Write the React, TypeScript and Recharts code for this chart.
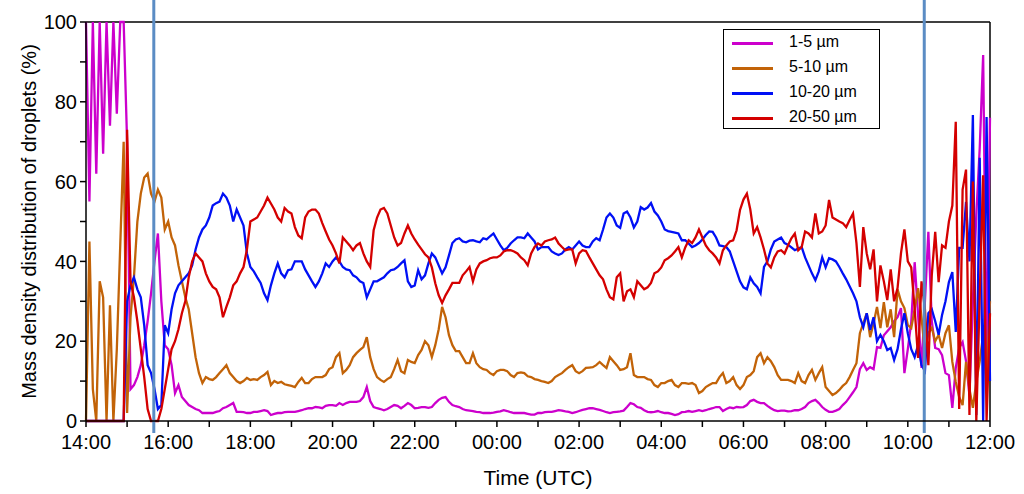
import { Label, Legend, Line, LineChart, ReferenceLine, XAxis, YAxis } from "recharts";

const FONT = '"Liberation Sans", Arial, sans-serif';

// one sample every 5 minutes, starting 14:00 UTC
const STEP_MIN = 5;

const HOUR_LABELS = [
  "14:00", "15:00", "16:00", "17:00", "18:00", "19:00", "20:00", "21:00",
  "22:00", "23:00", "00:00", "01:00", "02:00", "03:00", "04:00", "05:00",
  "06:00", "07:00", "08:00", "09:00", "10:00", "11:00", "12:00",
];

const Y_TICKS = [0, 10, 20, 30, 40, 50, 60, 70, 80, 90, 100];

// the two vertical markers, minutes after 14:00
const MARKER_TIMES = [99, 1224];

const size1to5 = [
  100, 55, 100, 62, 100, 67, 100, 74, 100, 77, 100, 100,
  70, 8, 9, 11, 14, 19, 25, 32, 40, 47, 30, 19,
  18, 14, 7, 9, 6, 5, 4, 3.5, 3, 2.7, 2, 2,
  2, 2, 2.3, 2.5, 3.2, 3.5, 4, 4.5, 2.3, 2.3, 2.2, 2,
  2, 2.3, 2.3, 2.5, 2.7, 2.5, 1.5, 1.8, 2, 2, 2.2, 2.3,
  2.3, 2.3, 2.5, 2.7, 3, 3.2, 3.2, 3.5, 3.4, 3.2, 3.8, 4,
  4, 3.8, 4.5, 4, 4.5, 4.8, 4.8, 4.8, 5, 6, 8.5, 5,
  3.5, 3.2, 3, 2.7, 3, 3.5, 4, 3.8, 3.2, 3.8, 4.5, 4,
  3.2, 3.3, 3.5, 3.5, 3.3, 3.5, 4.5, 5.3, 5.8, 6, 4.8, 4,
  3.7, 3.5, 3, 2.7, 2.6, 2.5, 2.3, 2.2, 2, 2, 2, 2.1,
  2.3, 2.4, 2.7, 2.5, 2.2, 2, 2, 2, 2, 1.8, 1.6, 1.6,
  2, 2, 2.2, 2.3, 2.3, 2.5, 2.7, 2.6, 2.4, 2.3, 2, 2.2,
  2.5, 2.8, 3, 3.2, 3.2, 3, 2.8, 2.5, 2.2, 2, 2.2, 2.3,
  2.4, 2.6, 3.5, 4.5, 4.2, 3.5, 3.3, 2.7, 2.3, 2.2, 2.3, 2.5,
  2.2, 2, 2, 1.8, 1.5, 1.7, 2.2, 2.3, 2.5, 2.3, 2.5, 2.7,
  2.5, 2.7, 3, 3.2, 3.5, 3.5, 2.5, 3, 3.4, 3.2, 3.5, 3.4,
  3.5, 4, 5, 5.3, 4.8, 4.5, 4.5, 3.8, 3.2, 2.7, 2.5, 2.6,
  2.6, 2.4, 2.5, 2.7, 2.7, 3, 3.5, 4.5, 5, 5.3, 4.5, 3.5,
  2.8, 2.3, 2.3, 2.6, 3, 4, 4.8, 6, 7.2, 8.5, 13, 14.5,
  12.8, 13.5, 13, 18.5, 18.3, 21.5, 22.5, 23.5, 25, 26, 28.3, 12,
  18, 24.8, 39.8, 26.6, 13.3, 30, 47.4, 25, 18.3, 18, 16.5, 12,
  11.5, 3.3, 13.3, 18.3, 19.8, 15, 6.5, 30, 51.6, 68.4, 91.7, 14,
  76,
];

const size5to10 = [
  0, 45, 8, 0, 35, 31, 0, 29, 0, 18, 44, 70,
  2, 26, 36, 50, 57, 61, 62, 57, 55, 58, 56, 48,
  50, 46, 44, 39, 35, 31, 28, 22, 16, 12, 9.5, 11,
  10.5, 10.3, 11, 12, 13, 14, 12, 11, 10, 9.5, 10, 10.8,
  10.3, 10.5, 10.3, 11, 11.5, 12.3, 9, 10, 9.5, 9.8, 9.2, 9,
  8.8, 8.5, 9.8, 10.8, 9.5, 9.5, 10.5, 11, 11, 11, 11.5, 13,
  13.5, 16, 17, 12, 12.8, 14, 16, 17, 17.8, 18.5, 21, 16,
  13, 11, 10.3, 9.8, 10.5, 11, 13, 15.3, 12.5, 12, 15.3, 14.8,
  14.5, 16.5, 17.8, 20, 19, 16, 19, 23, 28.6, 26, 21.5, 19,
  17.5, 17.5, 16, 14.5, 14.5, 17, 14.5, 13.5, 13, 12.8, 12, 11.5,
  12.5, 12.8, 12.8, 12.5, 11.5, 11, 12, 12.2, 12, 11.2, 11, 10.5,
  10.3, 10, 9.8, 9.5, 10, 11, 11.5, 12, 12.8, 13.5, 14, 12.5,
  12, 12.5, 13.3, 13.4, 13.5, 14, 14.8, 14, 13.3, 16, 15, 14,
  12.8, 13, 13.5, 17, 11.5, 11, 11, 11, 10.5, 10.3, 9, 8.5,
  9.5, 9.5, 10, 10.3, 9, 8.5, 9.5, 9.5, 9.3, 9.5, 9, 7,
  7.5, 8.5, 9, 9.5, 9.5, 11, 12, 9.5, 10, 11, 9, 8,
  9, 11, 11.5, 12.5, 16, 17, 14.5, 16, 15, 13.5, 11.5, 10.3,
  10.3, 10.3, 10, 9.5, 12, 10, 9.5, 11.5, 12.8, 10.3, 12, 13.5,
  8.5, 7.5, 6.5, 7, 7.8, 8.8, 9.5, 11, 12.8, 14.5, 22, 24.5,
  27, 21, 24.5, 28.6, 23.3, 29.8, 23.5, 28, 21, 33, 30, 28.3,
  24, 23.3, 28, 33.3, 26, 17, 22, 23.3, 20, 21.6, 18.3, 22,
  24, 14.8, 9.8, 6, 4, 14.8, 8, 3.3, 9.8, 15, 21.6, 10,
  30,
];

const size10to20 = [
  0, 0, 0, 0, 0, 0, 0, 0, 0, 0, 0, 0,
  30, 34, 36, 33, 31, 24, 14, 12, 8, 3, 4, 24,
  22, 28, 32, 34, 35, 36, 37, 39, 43, 46, 48, 49,
  51, 54, 54.6, 55, 57, 56, 54, 50, 53, 51, 49, 42,
  38.6, 37.5, 36, 34.6, 32, 30.3, 34, 37, 39.5, 37, 36, 37.8,
  38, 40, 40, 40, 38, 36.5, 35, 33.6, 35, 37, 39.5, 38.6,
  40, 41, 40, 38.6, 38, 37.8, 36.5, 36, 35, 34.6, 31, 33,
  35, 35, 35.5, 36, 37, 37.8, 38, 38.6, 39.5, 40.3, 35, 33.6,
  34, 37.8, 35.5, 36.5, 39.5, 42, 41, 39, 37, 38.5, 41.5, 44.6,
  45.5, 45.8, 45, 44.8, 45.2, 45.3, 45, 44.8, 45.8, 45.5, 46.3, 47,
  45.5, 44, 42.8, 43.4, 44.5, 45.3, 46, 46, 45.8, 47, 46, 45,
  43, 43.6, 43.6, 43.6, 42.5, 42, 41.6, 42, 43, 43.6, 43, 44,
  45, 44, 43.6, 43.6, 45, 45.8, 45.3, 48, 51, 52, 51, 49,
  48.4, 52, 52.5, 51, 48.5, 50, 53.6, 53, 53.5, 54.6, 52.5, 51.5,
  50, 48, 47.6, 47.4, 47.2, 47, 45.3, 45.3, 44.5, 43.6, 44, 44.6,
  45.5, 46.6, 47.5, 47.4, 46, 44, 43.8, 43.6, 42.5, 40, 37.5, 35,
  33.5, 33, 36, 34.5, 33.6, 32, 38.6, 40, 43, 45, 45.5, 46,
  44.6, 44.2, 43.5, 42.8, 43.2, 43.6, 41, 39, 37, 35.3, 37.5, 41,
  38.5, 40.8, 40.5, 40, 38.6, 37, 35.5, 33.8, 32, 30, 26, 23.5,
  27, 22.8, 26, 20, 21.6, 20, 17.8, 18.3, 15.3, 18, 23, 27,
  22, 18, 16, 19, 14, 12.5, 27, 28, 25, 21.6, 26.6, 30,
  34.8, 37.3, 22.3, 43.4, 43.4, 54.9, 40, 76.7, 1.5, 66, 0, 76.2,
  10,
];

const size20to50 = [
  0, 0, 0, 0, 0, 0, 0, 0, 0, 0, 0, 0,
  73, 35, 31, 25, 18, 11, 3, 0, 0, 0, 3, 8,
  13, 18, 20, 23, 27, 30, 36, 40, 42, 41, 40, 37,
  35, 33.6, 33, 31, 26, 28.6, 31, 34, 35, 37, 38.6, 43,
  50, 50.5, 51, 52.5, 54, 56, 54.5, 53, 51, 50, 53.4, 52.5,
  52, 48.6, 46.5, 45.8, 51, 52.5, 53, 53, 52, 49.6, 47.5, 45.5,
  44, 42, 39.5, 46, 45, 44, 42.8, 44, 44.6, 42, 40, 38.6,
  47.8, 51, 53, 53.4, 52, 49, 46, 44, 44.6, 47, 49, 47,
  45.5, 44.2, 43, 41.8, 41, 38.5, 34.5, 31.5, 29.6, 31.5, 33, 34.6,
  34.6, 34.6, 36.5, 37.5, 38.6, 35, 38, 39.5, 40, 40.3, 40.8, 41,
  41, 41.5, 42.5, 42.8, 42.8, 42.5, 42, 41, 40.3, 39, 42, 43.6,
  44.5, 44, 45, 45.3, 45.5, 46, 44.5, 43.6, 42.8, 43, 43, 39.5,
  42, 42.8, 42.6, 41, 39.5, 38, 36.5, 35.5, 33, 31, 30.5, 36,
  37, 30, 32.5, 33, 31, 35, 34, 33, 33.5, 34.6, 37, 37.5,
  38.5, 40.3, 40.8, 41.5, 42.5, 43.6, 41, 43.5, 45.3, 44.6, 46, 48,
  46, 44, 42.8, 42, 41, 39.5, 42.8, 44, 45, 45.3, 47.8, 52.9,
  55.5, 57, 53, 47, 48.6, 46, 43, 39.5, 38.5, 41, 42.5, 42.8,
  42, 44, 45.8, 47, 42.8, 43.6, 47.5, 47, 46, 52, 47, 47.5,
  49, 55.4, 51, 50.5, 50, 49.6, 48.6, 50.4, 52, 44.6, 33.6, 48.6,
  42, 38, 43, 30, 39, 35, 30.3, 38, 30, 33.3, 42, 48,
  40, 38.5, 28, 15.8, 35, 28, 14, 36.6, 47.4, 34.8, 44, 43.4,
  50, 54, 75, 3, 58, 63, 1.5, 60, 0, 31.6, 61.6, 0,
  27,
];

const SERIES = [
  { key: "s1", name: "1-5 µm", color: "#cc00cc", values: size1to5 },
  { key: "s2", name: "5-10 µm", color: "#c26308", values: size5to10 },
  { key: "s3", name: "10-20 µm", color: "#0010f5", values: size10to20 },
  { key: "s4", name: "20-50 µm", color: "#d40000", values: size20to50 },
];

const rows = size1to5.map((_, i) => {
  const row: Record<string, number> = { t: i * STEP_MIN };
  SERIES.forEach((s) => (row[s.key] = s.values[i]));
  return row;
});

const X_TICKS = HOUR_LABELS.map((_, i) => i * 60);
const xLabel = (m: number) => {
  const i = Math.round(m / 60);
  return i % 2 === 0 ? HOUR_LABELS[i] : "";
};

function LegendBox() {
  return (
    <div
      style={{
        position: "relative",
        width: 157,
        height: 100,
        boxSizing: "border-box",
        border: "1.5px solid #000",
        background: "#fff",
        fontFamily: FONT,
      }}
    >
      {SERIES.map((s, i) => (
        <div key={s.key} style={{ position: "absolute", left: 0, top: 2 + i * 25, height: 22, width: "100%" }}>
          <div style={{ position: "absolute", left: 8, top: 10, width: 41, height: 3, background: s.color }} />
          <span style={{ position: "absolute", left: 65, top: 1, fontSize: 16, color: "#000" }}>{s.name}</span>
        </div>
      ))}
    </div>
  );
}

function YTitle(props: any) {
  const vb = props.viewBox;
  const cy = vb && vb.height ? vb.y + vb.height / 2 : 221;
  return (
    <text
      x={29}
      y={cy}
      transform={`rotate(-90 29 ${cy})`}
      textAnchor="middle"
      dominantBaseline="central"
      fontSize={20}
      fill="#000"
    >
      Mass density distribution of droplets (%)
    </text>
  );
}

export default function App() {
  return (
    <div style={{ position: "relative", width: 1024, height: 494, background: "#fff", fontFamily: FONT }}>
      <style>{"body{margin:0}"}</style>
      <LineChart width={1024} height={494} data={rows} margin={{ top: 22, right: 34, bottom: 3, left: 0 }}>
        <XAxis
          dataKey="t"
          type="number"
          domain={[0, 1320]}
          ticks={X_TICKS}
          interval={0}
          tickFormatter={xLabel}
          height={70}
          tickSize={6}
          tickMargin={8}
          axisLine={{ stroke: "#000", strokeWidth: 1.5 }}
          tickLine={{ stroke: "#000", strokeWidth: 1.5 }}
          tick={{ fill: "#000", fontSize: 20 }}
        >
          <Label value="Time (UTC)" position="insideBottom" offset={6} style={{ fontSize: 21, fill: "#000" }} />
        </XAxis>
        <YAxis
          type="number"
          domain={[0, 100]}
          ticks={Y_TICKS}
          interval={0}
          width={86}
          tickSize={6}
          tickMargin={3}
          tickFormatter={(v: number) => (v % 20 === 0 ? String(v) : "")}
          axisLine={{ stroke: "#000", strokeWidth: 1.5 }}
          tickLine={{ stroke: "#000", strokeWidth: 1.5 }}
          tick={{ fill: "#000", fontSize: 20 }}
        >
          <Label content={YTitle} />
        </YAxis>
        <ReferenceLine y={100} stroke="#000" strokeWidth={1.5} />
        <ReferenceLine x={1320} stroke="#000" strokeWidth={1.5} />
        {SERIES.map((s) => (
          <Line
            key={s.key}
            dataKey={s.key}
            name={s.name}
            type="linear"
            stroke={s.color}
            strokeWidth={2.3}
            dot={false}
            activeDot={false}
            isAnimationActive={false}
          />
        ))}
        {MARKER_TIMES.map((t) => (
          <ReferenceLine
            key={t}
            segment={[
              { x: t, y: -3 },
              { x: t, y: 105.5 },
            ]}
            stroke="#5b8cc4"
            strokeWidth={3}
            ifOverflow="visible"
          />
        ))}
        <Legend
          verticalAlign="middle"
          align="center"
          layout="horizontal"
          wrapperStyle={{ left: 723, top: 29, width: 157, height: 100 }}
          content={() => <LegendBox />}
        />
      </LineChart>
    </div>
  );
}
